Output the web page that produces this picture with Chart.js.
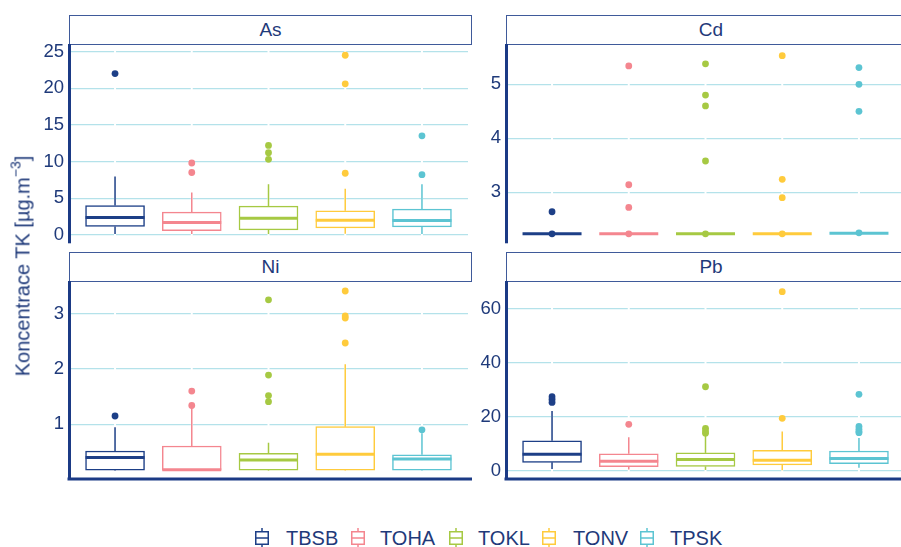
<!DOCTYPE html>
<html>
<head>
<meta charset="utf-8">
<script src="https://cdn.jsdelivr.net/npm/chart.js@4.4.1/dist/chart.umd.min.js"></script>
<style>
html,body{margin:0;padding:0;background:#fff;}
body{width:901px;height:547px;overflow:hidden;position:relative;font-family:"Liberation Sans",Arial,sans-serif;color:#1f3a7a;}
canvas{position:absolute;}
.strip{position:absolute;box-sizing:border-box;border:1.5px solid #3f5a9a;background:#fff;color:#1f3a7a;font-size:19px;display:flex;align-items:center;justify-content:center;height:30px;}
.ytitle{position:absolute;left:23px;top:266px;transform:translate(-50%,-50%) rotate(-90deg);white-space:nowrap;font-size:20px;color:#1f3a7a;}
.ytitle sup{font-size:14px;vertical-align:9px;line-height:0;}
.lg-icon{position:absolute;top:528px;}
.lg-text{position:absolute;top:528px;font-size:20px;line-height:20px;color:#1f3a7a;}
</style>
</head>
<body>
<div class="strip" style="left:69px;top:15px;width:403px;">As</div>
<div class="strip" style="left:506px;top:15px;width:410px;">Cd</div>
<div class="strip" style="left:69px;top:252px;width:403px;">Ni</div>
<div class="strip" style="left:506px;top:252px;width:410px;">Pb</div>
<canvas id="cAs" width="453" height="222" style="left:19px;top:33px;"></canvas>
<canvas id="cCd" width="453" height="222" style="left:456px;top:33px;"></canvas>
<canvas id="cNi" width="453" height="221" style="left:19px;top:270px;"></canvas>
<canvas id="cPb" width="453" height="221" style="left:456px;top:270px;"></canvas>
<div class="ytitle">Koncentrace TK [µg.m<sup>−3</sup>]</div>
<div id="legend"></div>
<script>
// ---- categories & colours ----
const categories = ['TBSB', 'TOHA', 'TOKL', 'TONV', 'TPSK'];
const seriesColors = ['#1d3f87', '#f4868f', '#a6c943', '#ffcb3c', '#5cc4d2'];

// ---- As ----
const asLower = [0.1, 0.1, 0.1, 0.15, 0.1];
const asQ1 = [1.13, 0.55, 0.68, 0.95, 1.09];
const asMedian = [2.36, 1.68, 2.27, 2.0, 1.96];
const asQ3 = [4.0, 3.1, 3.91, 3.27, 3.5];
const asUpper = [7.95, 5.77, 6.9, 6.27, 6.9];
const asOutliers = [[22.0], [9.8, 8.5], [12.2, 11.2, 10.3], [24.5, 20.6, 8.4], [13.5, 8.2]];
const asTicks = [0, 5, 10, 15, 20, 25];

// ---- Cd ----
const cdLower = [2.23, 2.23, 2.23, 2.23, 2.24];
const cdQ1 = [2.23, 2.23, 2.23, 2.23, 2.24];
const cdMedian = [2.23, 2.23, 2.23, 2.23, 2.24];
const cdQ3 = [2.23, 2.23, 2.23, 2.23, 2.24];
const cdUpper = [2.23, 2.23, 2.23, 2.23, 2.24];
const cdOutliers = [[2.64, 2.23], [5.34, 3.14, 2.72, 2.23], [5.38, 4.80, 4.60, 3.58, 2.23], [5.53, 3.24, 2.90, 2.23], [5.31, 5.00, 4.50, 2.25]];
const cdTicks = [3, 4, 5];

// ---- Ni ----
const niLower = [0.16, 0.16, 0.16, 0.16, 0.16];
const niQ1 = [0.17, 0.17, 0.17, 0.17, 0.17];
const niMedian = [0.40, 0.18, 0.355, 0.457, 0.372];
const niQ3 = [0.517, 0.607, 0.475, 0.957, 0.45];
const niUpper = [0.945, 1.29, 0.667, 2.085, 0.837];
const niOutliers = [[1.15], [1.60, 1.34], [3.25, 1.89, 1.52, 1.41], [3.41, 2.96, 2.92, 2.47], [0.90]];
const niTicks = [1, 2, 3];

// ---- Pb ----
const pbLower = [0.7, 0.6, 0.4, 0.3, 1.2];
const pbQ1 = [3.2, 1.6, 1.7, 2.3, 2.7];
const pbMedian = [6.2, 3.6, 4.3, 4.0, 4.6];
const pbQ3 = [11.2, 6.4, 6.7, 7.7, 7.4];
const pbUpper = [22.2, 12.5, 13.0, 14.6, 12.2];
const pbOutliers = [[27.5, 26.5, 25.4], [17.3], [31.2, 15.8, 14.8, 14.0], [66.4, 19.5], [28.4, 16.5, 15.5, 14.6, 14.2]];
const pbTicks = [0, 20, 40, 60];

const NAVY_AXIS = '#1b3a85';
const TEXT_COL = '#1f3a7a';
const GRID_COL = '#b4e2ea';
const FONT_FAMILY = "'Liberation Sans', Arial, sans-serif";

function makePlugin(panel) {
  return {
    id: 'boxparts',
    beforeDatasetsDraw(chart) {
      const {ctx, chartArea: a, scales: {x}} = chart;
      ctx.save();
      ctx.strokeStyle = '#ffffff';
      ctx.lineWidth = 2;
      categories.forEach((c, i) => {
        const px = x.getPixelForValue(i + 1);
        ctx.beginPath(); ctx.moveTo(px, a.top); ctx.lineTo(px, a.bottom); ctx.stroke();
      });
      ctx.restore();
    },
    afterDatasetDraw(chart, args) {
      if (args.index !== 0) return;
      const ctx = chart.ctx, y = chart.scales.y;
      ctx.save();
      ctx.lineCap = 'butt';
      args.meta.data.forEach((bar, i) => {
        const cx = bar.x, hw = bar.width / 2;
        ctx.strokeStyle = seriesColors[i];
        ctx.lineWidth = 1.5;
        const pq3 = y.getPixelForValue(panel.q3[i]), pu = y.getPixelForValue(panel.upper[i]);
        const pq1 = y.getPixelForValue(panel.q1[i]), pl = y.getPixelForValue(panel.lower[i]);
        ctx.beginPath(); ctx.moveTo(cx, pq3); ctx.lineTo(cx, pu); ctx.stroke();
        ctx.beginPath(); ctx.moveTo(cx, pq1); ctx.lineTo(cx, pl); ctx.stroke();
        const pm = y.getPixelForValue(panel.median[i]);
        ctx.lineWidth = 3;
        ctx.beginPath(); ctx.moveTo(cx - hw, pm); ctx.lineTo(cx + hw, pm); ctx.stroke();
      });
      ctx.restore();
    },
    afterDraw(chart) {
      if (!panel.bottomAxis) return;
      const {ctx, chartArea: a} = chart;
      ctx.save();
      ctx.strokeStyle = NAVY_AXIS;
      ctx.lineWidth = 3;
      ctx.beginPath(); ctx.moveTo(a.left - 1.5, a.bottom); ctx.lineTo(chart.width, a.bottom); ctx.stroke();
      ctx.restore();
    }
  };
}

function buildPanel(canvasId, panel) {
  const boxData = categories.map((c, i) => ({x: i + 1, y: [panel.q1[i], panel.q3[i]]}));
  const outPts = [], outCols = [];
  panel.outliers.forEach((arr, i) => arr.forEach(v => { outPts.push({x: i + 1, y: v}); outCols.push(seriesColors[i]); }));
  new Chart(document.getElementById(canvasId), {
    type: 'bar',
    data: {
      datasets: [
        {
          type: 'bar', label: 'box', data: boxData, order: 2,
          backgroundColor: '#ffffff', borderColor: seriesColors, borderWidth: 1.5,
          borderSkipped: false, barThickness: 59
        },
        {
          type: 'scatter', label: 'outliers', data: outPts, order: 1,
          pointRadius: 3.4, pointBackgroundColor: outCols, pointBorderWidth: 0, showLine: false
        }
      ]
    },
    options: {
      responsive: false, animation: false, devicePixelRatio: 1,
      layout: {padding: {top: 12, bottom: 12, left: 0, right: 0}},
      plugins: {legend: {display: false}, tooltip: {enabled: false}},
      scales: {
        x: {type: 'linear', min: 0.4, max: 5.6, display: false, offset: false,
            afterBuildTicks(s) { s.ticks = categories.map((c, i) => ({value: i + 1})); }},
        y: {
          type: 'linear', min: panel.yMin, max: panel.yMax,
          afterFit(s) { s.width = 50; s.paddingTop = 0; s.paddingBottom = 0; },
          afterBuildTicks(s) { s.ticks = panel.ticks.map(v => ({value: v})); },
          grid: {color: GRID_COL, lineWidth: 1.3, drawTicks: false},
          border: {display: true, color: NAVY_AXIS, width: 3},
          ticks: {padding: 5, color: TEXT_COL, font: {size: 18.5, family: FONT_FAMILY}}
        }
      }
    },
    plugins: [makePlugin(panel)]
  });
}

buildPanel('cAs', {lower: asLower, q1: asQ1, median: asMedian, q3: asQ3, upper: asUpper, outliers: asOutliers, ticks: asTicks, yMin: -1.12, yMax: 25.9, bottomAxis: false});
buildPanel('cCd', {lower: cdLower, q1: cdQ1, median: cdMedian, q3: cdQ3, upper: cdUpper, outliers: cdOutliers, ticks: cdTicks, yMin: 2.061, yMax: 5.728, bottomAxis: false});
buildPanel('cNi', {lower: niLower, q1: niQ1, median: niMedian, q3: niQ3, upper: niUpper, outliers: niOutliers, ticks: niTicks, yMin: 0.011, yMax: 3.573, bottomAxis: true});
buildPanel('cPb', {lower: pbLower, q1: pbQ1, median: pbMedian, q3: pbQ3, upper: pbUpper, outliers: pbOutliers, ticks: pbTicks, yMin: -2.96, yMax: 70.0, bottomAxis: true});

// ---- legend ----
const legendIconX = [255, 351, 449, 542, 640];
const legendTextX = [286, 380, 478, 573, 670];
const lg = document.getElementById('legend');
categories.forEach((c, i) => {
  const col = seriesColors[i];
  const icon = document.createElement('div');
  icon.className = 'lg-icon';
  icon.style.left = legendIconX[i] + 'px';
  icon.innerHTML = '<svg width="14" height="20" viewBox="0 0 14 20">' +
    '<line x1="7" y1="0" x2="7" y2="3.75" stroke="' + col + '" stroke-width="1.5"/>' +
    '<rect x="0.75" y="3.75" width="12.5" height="12.5" fill="#fff" stroke="' + col + '" stroke-width="1.5"/>' +
    '<line x1="0.75" y1="10" x2="13.25" y2="10" stroke="' + col + '" stroke-width="1.5"/>' +
    '<line x1="7" y1="16.25" x2="7" y2="20" stroke="' + col + '" stroke-width="1.5"/></svg>';
  lg.appendChild(icon);
  const t = document.createElement('div');
  t.className = 'lg-text';
  t.style.left = legendTextX[i] + 'px';
  t.textContent = c;
  lg.appendChild(t);
});
</script>
</body>
</html>
